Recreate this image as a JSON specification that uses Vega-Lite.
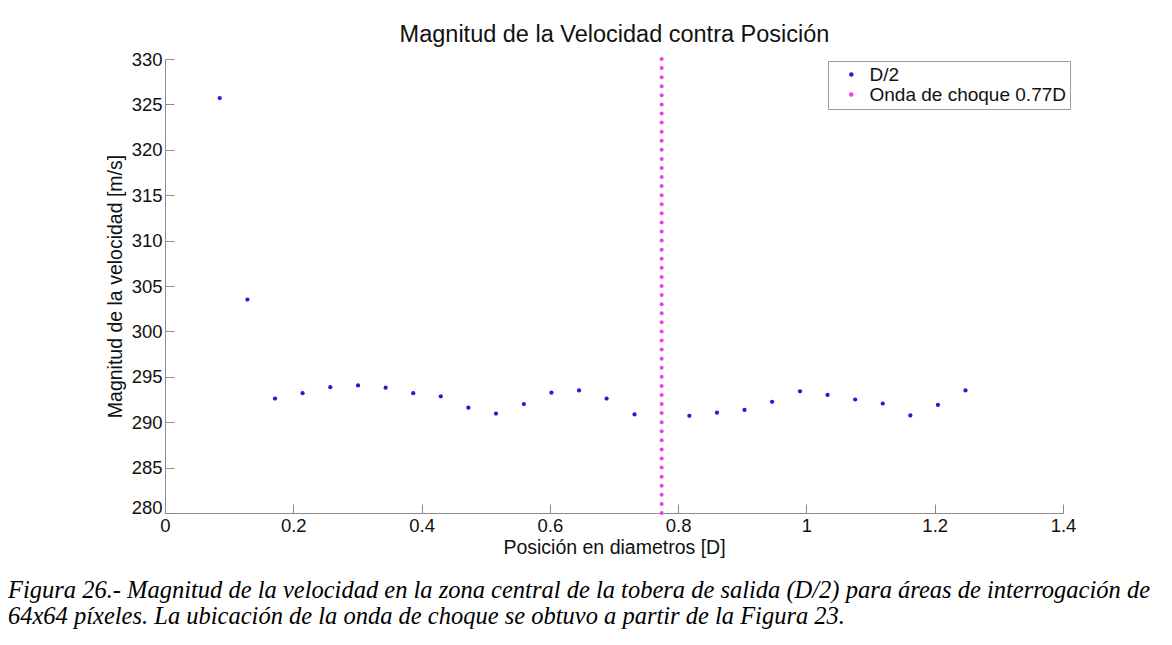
{
  "$schema": "https://vega.github.io/schema/vega-lite/v6.json",
  "width": 898,
  "height": 454,
  "autosize": {"type": "none"},
  "padding": {"left": 165, "top": 59, "right": 109, "bottom": 132},
  "background": "white",
  "config": {"view": {"stroke": null}, "font": "Liberation Sans"},
  "title": {
    "text": [
      "Figura 26.- Magnitud de la velocidad en la zona central de la tobera de salida (D/2) para áreas de interrogación de",
      "64x64 píxeles. La ubicación de la onda de choque se obtuvo a partir de la Figura 23."
    ],
    "orient": "bottom",
    "anchor": "start",
    "frame": "group",
    "dx": -157,
    "offset": 22,
    "baseline": "top",
    "font": "Liberation Serif",
    "fontStyle": "italic",
    "fontWeight": "normal",
    "fontSize": 24.5,
    "lineHeight": 26,
    "color": "#000000"
  },
  "datasets": {
    "velocidad": [
      {"posicion": 0.0853, "velocidad": 325.7, "serie": "D/2"},
      {"posicion": 0.1285, "velocidad": 303.5, "serie": "D/2"},
      {"posicion": 0.1715, "velocidad": 292.6, "serie": "D/2"},
      {"posicion": 0.2145, "velocidad": 293.2, "serie": "D/2"},
      {"posicion": 0.2577, "velocidad": 293.85, "serie": "D/2"},
      {"posicion": 0.301, "velocidad": 294.05, "serie": "D/2"},
      {"posicion": 0.344, "velocidad": 293.8, "serie": "D/2"},
      {"posicion": 0.387, "velocidad": 293.2, "serie": "D/2"},
      {"posicion": 0.43, "velocidad": 292.85, "serie": "D/2"},
      {"posicion": 0.473, "velocidad": 291.6, "serie": "D/2"},
      {"posicion": 0.516, "velocidad": 290.95, "serie": "D/2"},
      {"posicion": 0.5595, "velocidad": 292.0, "serie": "D/2"},
      {"posicion": 0.6025, "velocidad": 293.25, "serie": "D/2"},
      {"posicion": 0.6455, "velocidad": 293.5, "serie": "D/2"},
      {"posicion": 0.6885, "velocidad": 292.6, "serie": "D/2"},
      {"posicion": 0.732, "velocidad": 290.85, "serie": "D/2"},
      {"posicion": 0.8175, "velocidad": 290.7, "serie": "D/2"},
      {"posicion": 0.8605, "velocidad": 291.05, "serie": "D/2"},
      {"posicion": 0.9035, "velocidad": 291.35, "serie": "D/2"},
      {"posicion": 0.9465, "velocidad": 292.25, "serie": "D/2"},
      {"posicion": 0.99, "velocidad": 293.4, "serie": "D/2"},
      {"posicion": 1.033, "velocidad": 293.0, "serie": "D/2"},
      {"posicion": 1.076, "velocidad": 292.5, "serie": "D/2"},
      {"posicion": 1.119, "velocidad": 292.05, "serie": "D/2"},
      {"posicion": 1.162, "velocidad": 290.75, "serie": "D/2"},
      {"posicion": 1.205, "velocidad": 291.9, "serie": "D/2"},
      {"posicion": 1.248, "velocidad": 293.5, "serie": "D/2"}
    ],
    "choque": [
      {"posicion": 0.7743, "velocidad": 280, "serie": "Onda de choque 0.77D"},
      {"posicion": 0.7743, "velocidad": 281, "serie": "Onda de choque 0.77D"},
      {"posicion": 0.7743, "velocidad": 282, "serie": "Onda de choque 0.77D"},
      {"posicion": 0.7743, "velocidad": 283, "serie": "Onda de choque 0.77D"},
      {"posicion": 0.7743, "velocidad": 284, "serie": "Onda de choque 0.77D"},
      {"posicion": 0.7743, "velocidad": 285, "serie": "Onda de choque 0.77D"},
      {"posicion": 0.7743, "velocidad": 286, "serie": "Onda de choque 0.77D"},
      {"posicion": 0.7743, "velocidad": 287, "serie": "Onda de choque 0.77D"},
      {"posicion": 0.7743, "velocidad": 288, "serie": "Onda de choque 0.77D"},
      {"posicion": 0.7743, "velocidad": 289, "serie": "Onda de choque 0.77D"},
      {"posicion": 0.7743, "velocidad": 290, "serie": "Onda de choque 0.77D"},
      {"posicion": 0.7743, "velocidad": 291, "serie": "Onda de choque 0.77D"},
      {"posicion": 0.7743, "velocidad": 292, "serie": "Onda de choque 0.77D"},
      {"posicion": 0.7743, "velocidad": 293, "serie": "Onda de choque 0.77D"},
      {"posicion": 0.7743, "velocidad": 294, "serie": "Onda de choque 0.77D"},
      {"posicion": 0.7743, "velocidad": 295, "serie": "Onda de choque 0.77D"},
      {"posicion": 0.7743, "velocidad": 296, "serie": "Onda de choque 0.77D"},
      {"posicion": 0.7743, "velocidad": 297, "serie": "Onda de choque 0.77D"},
      {"posicion": 0.7743, "velocidad": 298, "serie": "Onda de choque 0.77D"},
      {"posicion": 0.7743, "velocidad": 299, "serie": "Onda de choque 0.77D"},
      {"posicion": 0.7743, "velocidad": 300, "serie": "Onda de choque 0.77D"},
      {"posicion": 0.7743, "velocidad": 301, "serie": "Onda de choque 0.77D"},
      {"posicion": 0.7743, "velocidad": 302, "serie": "Onda de choque 0.77D"},
      {"posicion": 0.7743, "velocidad": 303, "serie": "Onda de choque 0.77D"},
      {"posicion": 0.7743, "velocidad": 304, "serie": "Onda de choque 0.77D"},
      {"posicion": 0.7743, "velocidad": 305, "serie": "Onda de choque 0.77D"},
      {"posicion": 0.7743, "velocidad": 306, "serie": "Onda de choque 0.77D"},
      {"posicion": 0.7743, "velocidad": 307, "serie": "Onda de choque 0.77D"},
      {"posicion": 0.7743, "velocidad": 308, "serie": "Onda de choque 0.77D"},
      {"posicion": 0.7743, "velocidad": 309, "serie": "Onda de choque 0.77D"},
      {"posicion": 0.7743, "velocidad": 310, "serie": "Onda de choque 0.77D"},
      {"posicion": 0.7743, "velocidad": 311, "serie": "Onda de choque 0.77D"},
      {"posicion": 0.7743, "velocidad": 312, "serie": "Onda de choque 0.77D"},
      {"posicion": 0.7743, "velocidad": 313, "serie": "Onda de choque 0.77D"},
      {"posicion": 0.7743, "velocidad": 314, "serie": "Onda de choque 0.77D"},
      {"posicion": 0.7743, "velocidad": 315, "serie": "Onda de choque 0.77D"},
      {"posicion": 0.7743, "velocidad": 316, "serie": "Onda de choque 0.77D"},
      {"posicion": 0.7743, "velocidad": 317, "serie": "Onda de choque 0.77D"},
      {"posicion": 0.7743, "velocidad": 318, "serie": "Onda de choque 0.77D"},
      {"posicion": 0.7743, "velocidad": 319, "serie": "Onda de choque 0.77D"},
      {"posicion": 0.7743, "velocidad": 320, "serie": "Onda de choque 0.77D"},
      {"posicion": 0.7743, "velocidad": 321, "serie": "Onda de choque 0.77D"},
      {"posicion": 0.7743, "velocidad": 322, "serie": "Onda de choque 0.77D"},
      {"posicion": 0.7743, "velocidad": 323, "serie": "Onda de choque 0.77D"},
      {"posicion": 0.7743, "velocidad": 324, "serie": "Onda de choque 0.77D"},
      {"posicion": 0.7743, "velocidad": 325, "serie": "Onda de choque 0.77D"},
      {"posicion": 0.7743, "velocidad": 326, "serie": "Onda de choque 0.77D"},
      {"posicion": 0.7743, "velocidad": 327, "serie": "Onda de choque 0.77D"},
      {"posicion": 0.7743, "velocidad": 328, "serie": "Onda de choque 0.77D"},
      {"posicion": 0.7743, "velocidad": 329, "serie": "Onda de choque 0.77D"},
      {"posicion": 0.7743, "velocidad": 330, "serie": "Onda de choque 0.77D"}
    ]
  },
  "layer": [
    {
      "data": {"name": "velocidad"},
      "mark": {"type": "point", "filled": true, "size": 18, "opacity": 1, "clip": false},
      "encoding": {
        "x": {
          "field": "posicion",
          "type": "quantitative",
          "scale": {"domain": [0, 1.4], "nice": false, "zero": true},
          "axis": {
            "title": "Posición en diametros [D]",
            "values": [0, 0.2, 0.4, 0.6, 0.8, 1, 1.2, 1.4],
            "format": "~g",
            "grid": false,
            "domainColor": "#8c8c8c",
            "tickColor": "#8c8c8c",
            "tickSize": -9,
            "labelPadding": 12.6,
            "labelFontSize": 18.5,
            "labelColor": "#111111",
            "labelFlush": false,
            "labelOverlap": false,
            "titleFontSize": 19.5,
            "titleFontWeight": "normal",
            "titleColor": "#111111",
            "titlePadding": 3
          }
        },
        "y": {
          "field": "velocidad",
          "type": "quantitative",
          "scale": {"domain": [280, 330], "nice": false, "zero": false},
          "axis": {
            "title": "Magnitud de la velocidad [m/s]",
            "values": [280, 285, 290, 295, 300, 305, 310, 315, 320, 325, 330],
            "format": "d",
            "grid": false,
            "domainColor": "#8c8c8c",
            "tickColor": "#8c8c8c",
            "tickSize": -9,
            "labelPadding": 12,
            "labelFontSize": 18.5,
            "labelColor": "#111111",
            "labelFlush": false,
            "labelOverlap": false,
            "labelBaseline": {"condition": {"test": "datum.value == 280", "value": "alphabetic"}, "value": "middle"},
            "titleFontSize": 19.5,
            "titleFontWeight": "normal",
            "titleColor": "#111111",
            "titlePadding": 5.5
          }
        },
        "color": {
          "field": "serie",
          "type": "nominal",
          "scale": {"domain": ["D/2", "Onda de choque 0.77D"], "range": ["#1f1fd6", "#f03cf0"]},
          "legend": {
            "title": null,
            "orient": "none",
            "legendX": 663,
            "legendY": 2,
            "padding": 4,
            "strokeColor": "#9a9a9a",
            "fillColor": "#ffffff",
            "symbolType": "circle",
            "symbolSize": 20,
            "symbolStrokeWidth": 0,
            "symbolOffset": 9.8,
            "labelOffset": 8.7,
            "labelFontSize": 19,
            "labelLimit": 400,
            "labelColor": "#111111",
            "rowPadding": -4
          }
        }
      }
    },
    {
      "data": {"name": "choque"},
      "mark": {"type": "point", "filled": true, "size": 16, "opacity": 1, "clip": false},
      "encoding": {
        "x": {
          "field": "posicion",
          "type": "quantitative",
          "axis": {
            "orient": "top",
            "title": "Magnitud de la Velocidad contra Posición",
            "domain": false,
            "ticks": false,
            "labels": false,
            "grid": false,
            "titleFontSize": 23.5,
            "titleFontWeight": "normal",
            "titleColor": "#111111",
            "titlePadding": 13
          }
        },
        "y": {"field": "velocidad", "type": "quantitative"},
        "color": {"field": "serie", "type": "nominal"}
      }
    }
  ],
  "resolve": {"axis": {"x": "independent"}}
}
